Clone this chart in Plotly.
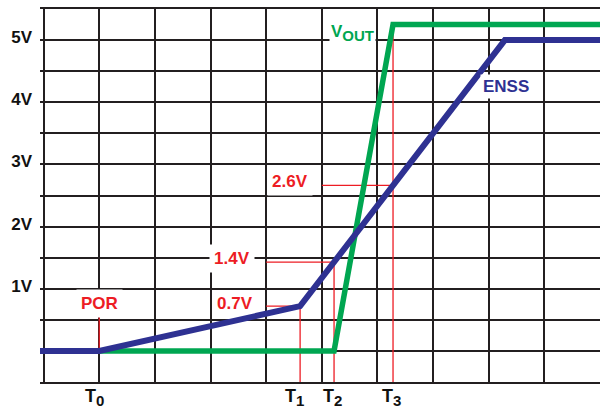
import numpy as np
import plotly.graph_objects as go

# ---- data (time in grid units, voltage in V) ----
enss_t = [-0.065, 1.0, 4.61, 8.29, 10.0]
enss_v = [0.0, 0.0, 0.72, 5.0, 5.0]
vout_t = [-0.065, 5.22, 6.28, 10.0]
vout_v = [0.0, 0.0, 5.25, 5.25]

t_names = ["0", "1", "2", "3"]
t_marks = [1.0, 4.61, 5.22, 6.28]
level_labels = ["0.7V", "1.4V", "2.6V"]
ytick_vals = [1, 2, 3, 4, 5]
ytick_text = ["1V", "2V", "3V", "4V", "5V"]

GREEN = "#00A651"
BLUE = "#2E3192"
RED = "#ED1C24"
GRID = "#231F20"
FONT = "Liberation Sans, Arial, sans-serif"

fig = go.Figure()

# red guide lines
T0, T1, T2, T3 = t_marks
lv1 = float(np.interp(T1, enss_t, enss_v))
lv2 = float(np.interp(T2, enss_t, enss_v))
lv3 = float(np.interp(T3, enss_t, enss_v))
vtop = float(np.interp(T3, vout_t, vout_v))
gx, gy = [], []
def seg(x0, y0, x1, y1):
    gx.extend([x0, x1, None]); gy.extend([y0, y1, None])
seg(T0, 0.0, T0, 0.55)
seg(T1, -0.5, T1, lv1); seg(4.0, lv1, T1, lv1)
seg(T2, -0.5, T2, lv2); seg(4.0, lv2, T2, lv2)
seg(T3, -0.5, T3, vtop); seg(5.0, lv3, T3, lv3)
fig.add_trace(go.Scatter(x=gx, y=gy, mode="lines", line=dict(color=RED, width=1.3),
                         hoverinfo="skip", showlegend=False))

fig.add_trace(go.Scatter(x=vout_t, y=vout_v, mode="lines",
                         line=dict(color=GREEN, width=5.5), showlegend=False))
fig.add_trace(go.Scatter(x=enss_t, y=enss_v, mode="lines",
                         line=dict(color=BLUE, width=6), showlegend=False))

grid_y = [v / 2 for v in range(0, 11)]
fig.update_xaxes(range=[-0.065, 10.0], tickvals=list(range(0, 10)), ticktext=[""] * 10,
                 showgrid=True, gridcolor=GRID, gridwidth=2, zeroline=False,
                 showline=True, linecolor=GRID, linewidth=2, mirror=True,
                 ticks="", fixedrange=True)
fig.update_yaxes(range=[-0.5, 5.5], tickvals=grid_y,
                 ticktext=[ytick_text[ytick_vals.index(v)] if v in ytick_vals else "" for v in grid_y],
                 showgrid=True, gridcolor=GRID, gridwidth=2, zeroline=False,
                 showline=False, ticks="", ticklabelstandoff=7, ticklabelshift=-3,
                 tickfont=dict(family=FONT, size=17, color="#111111", weight="bold"),
                 fixedrange=True)

ann = []
def lab(text, x, y, color, xanchor="center", bg=None, pad=1, size=17, xshift=0, yshift=0):
    ann.append(dict(text=text, x=x, y=y, xref="x", yref="y", showarrow=False,
                    xanchor=xanchor, yanchor="middle", xshift=xshift, yshift=yshift,
                    font=dict(family=FONT, size=size, color=color, weight="bold"),
                    bgcolor=bg if bg else "rgba(0,0,0,0)", borderpad=pad))

lab("POR", T0, 0.77, RED, bg="white", pad=4)
lab(level_labels[0], 3.80, 0.77, RED, xanchor="right")
lab(level_labels[1], 3.80, 1.48, RED, xanchor="right", bg="white", pad=4)
lab(level_labels[2], 4.84, 2.72, RED, xanchor="right", bg="white", pad=4)
lab("V<sub><span style='font-size:15px'>OUT</span></sub>", 5.56, 5.12, GREEN, bg="white", pad=1)
lab("ENSS", 8.31, 4.26, BLUE, bg="white", pad=2)
shifts = [-5, -6, -2, -2]
for name, t, s in zip(t_names, t_marks, shifts):
    lab("T<sub><span style='font-size:15px'>" + name + "</span></sub>", t, -0.5,
        "#111111", size=18, xshift=s, yshift=-15)

fig.update_layout(width=600, height=409, margin=dict(l=40, r=0, t=9, b=27),
                  paper_bgcolor="white", plot_bgcolor="white",
                  annotations=ann, showlegend=False)

fig.write_html("out.html", config={"displayModeBar": False},
               post_script="document.body.style.margin='0';")
